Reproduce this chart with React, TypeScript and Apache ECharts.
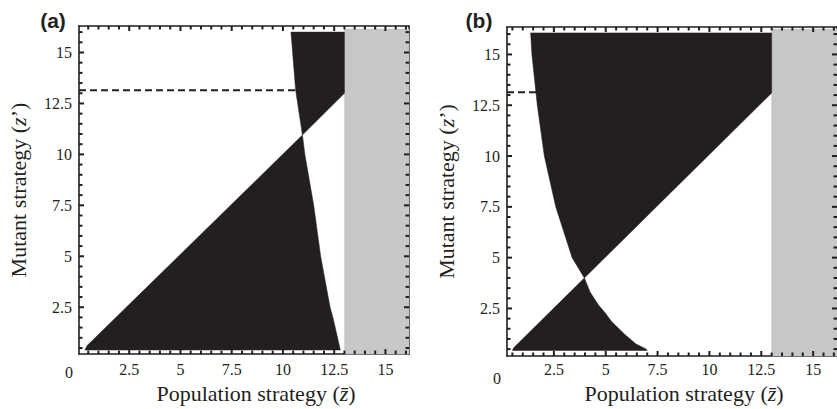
import React, { useEffect, useRef } from 'react';
import * as echarts from 'echarts';

// ---------- data ----------
const majorTicks = [2.5, 5, 7.5, 10, 12.5, 15];
const minorTicks = [0.5, 1, 1.5, 2, 3, 3.5, 4, 4.5, 5.5, 6, 6.5, 7, 8, 8.5, 9, 9.5, 10.5, 11, 11.5, 12, 13, 13.5, 14, 14.5, 15.5, 16];

const xExtentA = [0.05, 16.15];
const yExtentA = [0.2, 16.3];
const xExtentB = [0.24, 16.15];
const yExtentB = [0.16, 16.35];

// panel (a)
const blackLowerA = [
  [0.34, 0.4], [0.45, 0.62], [10.95, 10.95], [11.07, 10], [11.5, 7.5], [11.84, 5],
  [12.3, 2.5], [12.45, 1.95], [12.8, 0.4],
];
const blackUpperA = [
  [10.95, 10.95], [10.62, 13.15], [10.39, 16.0], [13, 16.0], [13, 13], [10.95, 10.95],
];
const grayA = [[13, 0.2], [16.15, 0.2], [16.15, 16.15], [13, 16.15]];
const dashA = [[0.05, 13.15], [10.68, 13.15]];

// panel (b)
const blackLowerB = [
  [0.5, 0.43], [0.56, 0.56], [3.97, 4.0], [4.25, 3.3], [4.65, 2.67], [4.96, 2.3],
  [5.28, 1.86], [5.91, 1.23], [6.46, 0.75], [6.94, 0.51], [7.0, 0.43],
];
const blackUpperB = [
  [3.97, 4.0], [3.38, 5], [2.59, 7.5], [2.04, 10], [1.7, 12.5], [1.44, 15], [1.38, 16.06],
  [13, 16.06], [13, 13.1], [3.97, 4.0],
];
const grayB = [[13, 0.16], [16.15, 0.16], [16.15, 16.25], [13, 16.25]];
const dashB = [[0.24, 13.14], [1.64, 13.14]];

// ---------- styles ----------
const INK = '#231f20';
const FRAME = '#1e1e1e';
const GRAY = '#c6c7c9';
const SERIF = '"Liberation Serif", "Times New Roman", serif';

function makeAxis(
  gridIndex: number,
  ext: number[],
  position: string,
  showLabel: boolean,
  labelMargin: number,
  name?: string,
  nameGap?: number,
  horizontal?: boolean
) {
  return {
    type: 'value',
    gridIndex,
    min: ext[0],
    max: ext[1],
    position,
    axisLine: { show: true, lineStyle: { color: FRAME, width: 1.6 } },
    axisTick: { show: false },
    axisLabel: {
      show: showLabel,
      customValues: majorTicks,
      margin: labelMargin,
      fontFamily: SERIF,
      fontSize: 16,
      color: INK,
    },
    splitLine: { show: false },
    name: name || '',
    nameLocation: 'middle',
    nameGap: nameGap || 0,
    nameTextStyle: {
      fontFamily: SERIF,
      fontSize: 22,
      color: INK,
      padding: horizontal ? [0, 0, 0, 24] : 0,
      rich: {
        i: { fontFamily: SERIF, fontSize: 22, fontStyle: 'italic', color: INK },
      },
    },
  };
}

function polySeries(points: number[][], fill: string, xi: number, yi: number) {
  return {
    type: 'custom',
    xAxisIndex: xi,
    yAxisIndex: yi,
    silent: true,
    data: [0],
    z: 1,
    renderItem: (_params: any, api: any) => ({
      type: 'polygon',
      shape: { points: points.map((p) => api.coord(p)) },
      style: { fill, stroke: fill, lineWidth: 0.5 },
    }),
  };
}

// frame ticks on all four sides, placed through the axes' scales
function tickSeries(xe: number[], ye: number[], xi: number, yi: number) {
  const data = [
    ...majorTicks.map((v) => [v, 1]),
    ...minorTicks.map((v) => [v, 0]),
  ];
  return {
    type: 'custom',
    xAxisIndex: xi,
    yAxisIndex: yi,
    silent: true,
    clip: false,
    z: 5,
    data,
    renderItem: (_params: any, api: any) => {
      const v = api.value(0);
      const len = api.value(1) ? 5 : 3.5;
      const style = { stroke: FRAME, lineWidth: 2 };
      const children: any[] = [];
      if (v > xe[0] && v < xe[1]) {
        const b = api.coord([v, ye[0]]);
        const t = api.coord([v, ye[1]]);
        children.push({ type: 'line', shape: { x1: b[0], y1: b[1], x2: b[0], y2: b[1] - len }, style });
        children.push({ type: 'line', shape: { x1: t[0], y1: t[1], x2: t[0], y2: t[1] + len }, style });
      }
      if (v > ye[0] && v < ye[1]) {
        const l = api.coord([xe[0], v]);
        const r = api.coord([xe[1], v]);
        children.push({ type: 'line', shape: { x1: l[0], y1: l[1], x2: l[0] + len, y2: l[1] }, style });
        children.push({ type: 'line', shape: { x1: r[0], y1: r[1], x2: r[0] - len, y2: r[1] }, style });
      }
      return { type: 'group', children };
    },
  };
}

function dashSeries(points: number[][], xi: number, yi: number) {
  return {
    type: 'line',
    xAxisIndex: xi,
    yAxisIndex: yi,
    silent: true,
    symbol: 'none',
    z: 2,
    data: points,
    lineStyle: { color: INK, width: 2, type: [7, 4] },
  };
}

const xName = 'Population strategy ({i|z\u0304})';
const yName = 'Mutant strategy ({i|z}\u2019)';

function buildOption() {
  const grids = [
    { left: 79, top: 26, width: 330, height: 330 },
    { left: 507, top: 27, width: 336, height: 339 },
  ];
  const xAxes: any[] = [];
  const yAxes: any[] = [];
  const series: any[] = [];
  const panels = [
    { xe: xExtentA, ye: yExtentA, xm: 7, ym: 7, lower: blackLowerA, upper: blackUpperA, gray: grayA, dash: dashA },
    { xe: xExtentB, ye: yExtentB, xm: 5, ym: 7, lower: blackLowerB, upper: blackUpperB, gray: grayB, dash: dashB },
  ];
  panels.forEach((p, g) => {
    const bx = xAxes.length;
    const by = yAxes.length;
    xAxes.push(makeAxis(g, p.xe, 'bottom', true, p.xm, xName, 26, true));
    xAxes.push(makeAxis(g, p.xe, 'top', false, 0));
    yAxes.push(makeAxis(g, p.ye, 'left', true, p.ym, yName, 50, false));
    yAxes.push(makeAxis(g, p.ye, 'right', false, 0));
    series.push(polySeries(p.gray, GRAY, bx, by));
    series.push(polySeries(p.lower, INK, bx, by));
    series.push(polySeries(p.upper, INK, bx, by));
    series.push(dashSeries(p.dash, bx, by));
    series.push(tickSeries(p.xe, p.ye, bx, by));
  });

  const labelText = (text: string, x: number, y: number, bold: boolean) => ({
    type: 'text',
    x,
    y,
    z: 10,
    style: {
      text,
      fill: INK,
      font: bold
        ? 'bold 21px "Liberation Sans", Arial, sans-serif'
        : '16px "Liberation Serif", "Times New Roman", serif',
      textAlign: 'center',
      textVerticalAlign: 'middle',
    },
  });

  return {
    animation: false,
    backgroundColor: '#ffffff',
    grid: grids,
    xAxis: xAxes,
    yAxis: yAxes,
    series,
    graphic: [
      labelText('(a)', 53, 20, true),
      labelText('(b)', 479, 20, true),
      labelText('0', 69, 372, false),
      labelText('0', 497, 378, false),
    ],
  };
}

export default function App() {
  const ref = useRef<HTMLDivElement>(null);
  useEffect(() => {
    if (!ref.current) return;
    const chart = echarts.init(ref.current, undefined, { renderer: 'svg' });
    chart.setOption(buildOption() as any);
    return () => chart.dispose();
  }, []);
  return (
    <div
      ref={ref}
      style={{ position: 'fixed', left: 0, top: 0, width: 837, height: 409, background: '#fff' }}
    />
  );
}
